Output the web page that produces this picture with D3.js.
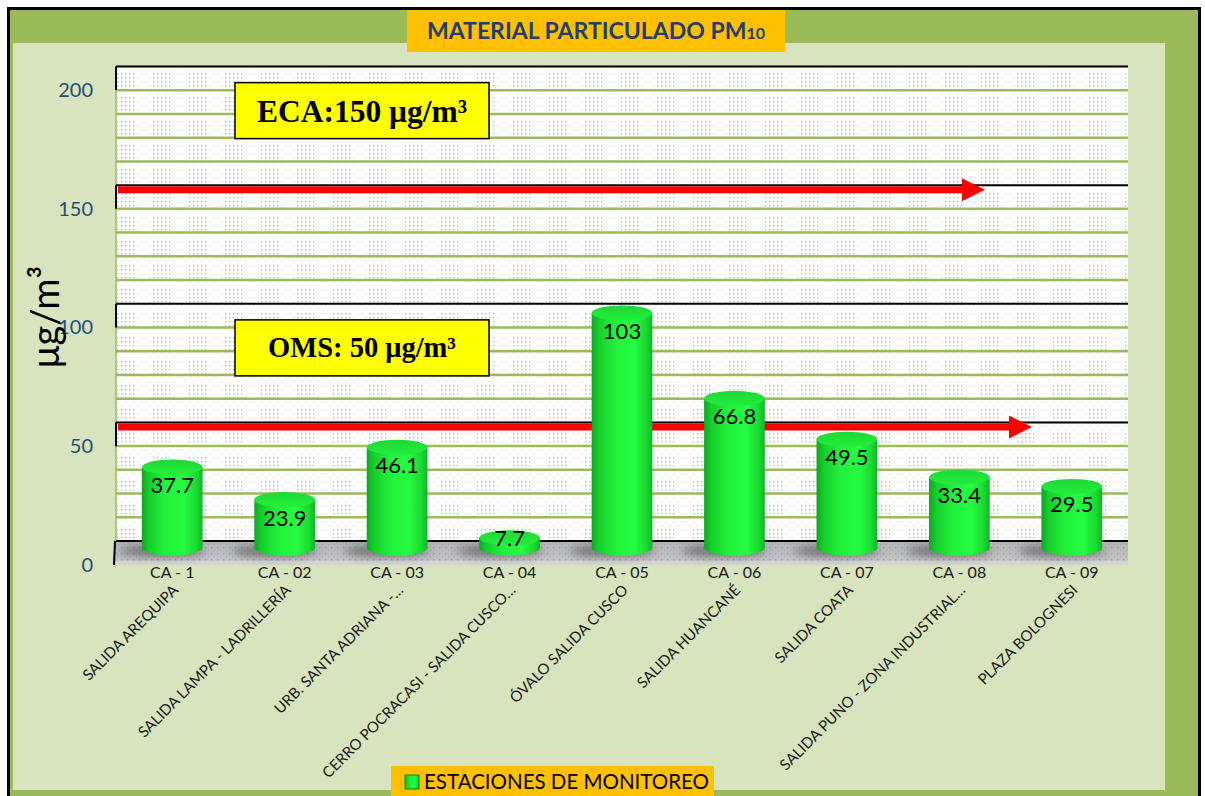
<!DOCTYPE html>
<html>
<head>
<meta charset="utf-8">
<script src="https://cdn.jsdelivr.net/npm/d3@7"></script>
<style>
  body { margin: 0; background: #fff; }
  text { font-family: Lato, "Open Sans", sans-serif; }
</style>
</head>
<body>
<script>
// Chart data
const codes = ["CA - 1", "CA - 02", "CA - 03", "CA - 04", "CA - 05", "CA - 06", "CA - 07", "CA - 08", "CA - 09"];
const stations = [
  "SALIDA AREQUIPA",
  "SALIDA LAMPA - LADRILLERÍA",
  "URB. SANTA ADRIANA -…",
  "CERRO POCRACASI - SALIDA CUSCO…",
  "ÓVALO SALIDA  CUSCO",
  "SALIDA HUANCANÉ",
  "SALIDA COATA",
  "SALIDA PUNO - ZONA INDUSTRIAL…",
  "PLAZA BOLOGNESI"
];
const values = [37.7, 23.9, 46.1, 7.7, 103, 66.8, 49.5, 33.4, 29.5];
const yTicks = [0, 50, 100, 150, 200];
const limitLabels = ["ECA:150 μg/m³", "OMS: 50 μg/m³"];
const limitValues = [150, 50];

// Size of the page
const w = 1205;
const h = 796;

// Walls of the 3D plot
const wallL = 116, wallR = 1128;
const arrowTips = [985, 1032];

const svg = d3.select("body")
  .append("svg")
  .attr("width", w)
  .attr("height", h);

const defs = svg.append("defs");

// dotted texture of the back wall
const dots = defs.append("pattern")
  .attr("id", "dots")
  .attr("patternUnits", "userSpaceOnUse")
  .attr("width", 36).attr("height", 24);
for (let i = 0; i < 36; i += 4) {
  for (let j = 0; j < 24; j += 4) {
    const dense = i >= 8 && i < 28 && j < 16;
    if (!dense && (i + j) % 8 != 0) continue;
    dots.append("rect")
      .attr("x", i + 1).attr("y", j + 1)
      .attr("width", 1.3).attr("height", 1.3)
      .attr("fill", dense ? "#a9b8d1" : "#d3dbe7");
  }
}

// darker texture for the floor
const floorDots = defs.append("pattern")
  .attr("id", "floorDots")
  .attr("patternUnits", "userSpaceOnUse")
  .attr("width", 6).attr("height", 6);
floorDots.append("rect").attr("x", 1).attr("y", 1).attr("width", 1.4).attr("height", 1.4).attr("fill", "#8593aa");
floorDots.append("rect").attr("x", 4).attr("y", 4).attr("width", 1.2).attr("height", 1.2).attr("fill", "#9aa6b9");

const floorGrad = defs.append("linearGradient")
  .attr("id", "floorGrad").attr("x1", 0).attr("y1", 0).attr("x2", 0).attr("y2", 1);
floorGrad.append("stop").attr("offset", "0%").attr("stop-color", "#b4b4b4");
floorGrad.append("stop").attr("offset", "80%").attr("stop-color", "#c4c4c4");
floorGrad.append("stop").attr("offset", "85%").attr("stop-color", "#d6d6d6");
floorGrad.append("stop").attr("offset", "100%").attr("stop-color", "#d2d2d2");

// cylinder shading
const cylGrad = defs.append("linearGradient")
  .attr("id", "cylGrad").attr("x1", 0).attr("y1", 0).attr("x2", 1).attr("y2", 0);
[["0%", "#0ea822"], ["12%", "#17cf2c"], ["40%", "#22f23d"], ["70%", "#25fb40"], ["90%", "#1bd932"], ["100%", "#12b526"]]
  .forEach(s => cylGrad.append("stop").attr("offset", s[0]).attr("stop-color", s[1]));

const topGrad = defs.append("linearGradient")
  .attr("id", "topGrad").attr("x1", 0).attr("y1", 0).attr("x2", 0).attr("y2", 1);
topGrad.append("stop").attr("offset", "0%").attr("stop-color", "#1ed836");
topGrad.append("stop").attr("offset", "100%").attr("stop-color", "#22ef3b");

const blur = defs.append("filter").attr("id", "blur")
  .attr("x", "-50%").attr("y", "-100%").attr("width", "200%").attr("height", "300%");
blur.append("feGaussianBlur").attr("stdDeviation", 4);

// Scales
const x = d3.scaleBand().domain(codes).range([wallL, wallR]);
const yFront = d3.scaleLinear().domain([0, 200]).range([565, 90]);
const yBack = d3.scaleLinear().domain([0, 200]).range([541, 66.5]);
const yBar = d3.scaleLinear().domain([0, 200]).range([556, 84]);

// Frame
svg.append("rect")
  .attr("x", 8.5).attr("y", 8.5)
  .attr("width", 1191).attr("height", 800)
  .style("fill", "#9bbb59")
  .style("stroke", "#000")
  .style("stroke-width", 3);

svg.append("rect")
  .attr("x", 13).attr("y", 43)
  .attr("width", 1152).attr("height", 747)
  .style("fill", "#d7e4bd");

// Title
svg.append("rect")
  .attr("x", 407).attr("y", 10)
  .attr("width", 378).attr("height", 42)
  .style("fill", "#ffc000");

const title = svg.append("text")
  .attr("x", 596).attr("y", 39)
  .attr("text-anchor", "middle")
  .style("font-size", "23px")
  .style("font-weight", "bold")
  .style("fill", "#1f3f6e");
title.append("tspan").text("MATERIAL PARTICULADO PM");
title.append("tspan").style("font-size", "16px").text("10");

// Back wall
svg.append("rect")
  .attr("x", wallL).attr("y", yBack(200))
  .attr("width", wallR - wallL).attr("height", yBack(0) - yBack(200))
  .style("fill", "#fff");
svg.append("rect")
  .attr("x", wallL).attr("y", yBack(200))
  .attr("width", wallR - wallL).attr("height", yBack(0) - yBack(200))
  .style("fill", "url(#dots)");

// Floor
svg.append("path")
  .attr("d", "M" + wallL + "," + yBack(0) + "L" + wallR + "," + yBack(0) +
             "L" + wallR + "," + yFront(0) + "L" + (wallL - 2) + "," + yFront(0) + "Z")
  .style("fill", "url(#floorGrad)");
svg.append("path")
  .attr("d", "M" + wallL + "," + yBack(0) + "L" + wallR + "," + yBack(0) +
             "L" + wallR + "," + (yFront(0) - 4) + "L" + (wallL - 2) + "," + (yFront(0) - 4) + "Z")
  .style("fill", "url(#floorDots)")
  .style("opacity", 0.8);

// Gridlines on the back wall
const grid = d3.range(0, 201, 10);
svg.append("g")
  .selectAll("line")
  .data(grid.filter(v => v % 50 != 0))
  .enter()
  .append("line")
  .attr("x1", wallL).attr("x2", wallR)
  .attr("y1", d => yBack(d)).attr("y2", d => yBack(d))
  .style("stroke", "#9bbb59")
  .style("stroke-width", 2.5);

svg.append("line")
  .attr("x1", wallL).attr("x2", wallL)
  .attr("y1", yBack(200)).attr("y2", yBack(0))
  .style("stroke", "#9bbb59")
  .style("stroke-width", 1.5);

svg.append("g")
  .selectAll("line")
  .data(yTicks)
  .enter()
  .append("line")
  .attr("x1", wallL).attr("x2", wallR)
  .attr("y1", d => yBack(d)).attr("y2", d => yBack(d))
  .style("stroke", "#000")
  .style("stroke-width", 2);

// short edges of the side wall
svg.append("g")
  .selectAll("line")
  .data(yTicks)
  .enter()
  .append("line")
  .attr("x1", d => d == 0 ? wallL - 1 : wallL).attr("x2", d => d == 0 ? wallL - 2 : wallL)
  .attr("y1", d => yBack(d)).attr("y2", d => yFront(d))
  .style("stroke", "#000")
  .style("stroke-width", 2);

// Limit arrows and boxes
const limits = svg.append("g")
  .selectAll("g")
  .data(limitValues)
  .enter()
  .append("g")
  .attr("transform", d => "translate(0," + (yBack(d) + 4.5) + ")");

limits.append("line")
  .attr("x1", wallL + 2)
  .attr("x2", (d, i) => arrowTips[i] - 20)
  .attr("y1", 0).attr("y2", 0)
  .style("stroke", "#ff0000")
  .style("stroke-width", 7);

limits.append("path")
  .attr("d", (d, i) => "M" + (arrowTips[i] - 23) + ",-11.5L" + arrowTips[i] + ",0L" + (arrowTips[i] - 23) + ",11.5Z")
  .style("fill", "#ff0000");

limits.append("rect")
  .attr("x", 235).attr("y", -107)
  .attr("width", 254).attr("height", 56)
  .style("fill", "#ffff00")
  .style("stroke", "#000")
  .style("stroke-width", 1.5);

limits.append("text")
  .attr("x", 362)
  .attr("y", (d, i) => i == 0 ? -68 : -70)
  .attr("text-anchor", "middle")
  .style("font-family", "'Liberation Serif', 'Times New Roman', serif")
  .style("font-weight", "bold")
  .style("font-size", (d, i) => i == 0 ? "31.5px" : "28.5px")
  .style("fill", "#000")
  .text((d, i) => limitLabels[i]);

// Shadows on the floor
svg.append("g")
  .selectAll("ellipse")
  .data(values)
  .enter()
  .append("ellipse")
  .attr("cx", (d, i) => x(codes[i]) + x.bandwidth() / 2 - 10)
  .attr("cy", yBar(0) - 5)
  .attr("rx", x.bandwidth() * 0.38)
  .attr("ry", 6)
  .style("fill", "#3a3a3a")
  .style("opacity", 0.55)
  .attr("filter", "url(#blur)");

// Cylinders
const r = x.bandwidth() * 0.27;
const ry = 7.5;
const bars = svg.append("g")
  .selectAll("g")
  .data(values)
  .enter()
  .append("g")
  .attr("transform", (d, i) => "translate(" + (x(codes[i]) + x.bandwidth() / 2) + ",0)");

bars.append("path")
  .attr("d", d => {
    const top = yBar(d), bot = yBar(0) - 8;
    return "M" + (-r) + "," + top + "L" + (-r) + "," + bot +
           "A" + r + "," + ry + " 0 0 0 " + r + "," + bot +
           "L" + r + "," + top + "Z";
  })
  .style("fill", "url(#cylGrad)");

bars.append("ellipse")
  .attr("cx", 0)
  .attr("cy", d => yBar(d))
  .attr("rx", r).attr("ry", ry)
  .style("fill", "url(#topGrad)");

// value labels sit inside the cylinder, but never lower than its top on short bars
bars.append("text")
  .attr("x", 0)
  .attr("y", d => Math.min(yBar(d) + 18, Math.max(yBar(d), yBar(0) - 26)))
  .attr("dy", "0.36em")
  .attr("text-anchor", "middle")
  .style("font-size", "22px")
  .style("fill", "#000")
  .text(d => d);

// Category labels
const labels = svg.append("g")
  .selectAll("g")
  .data(codes)
  .enter()
  .append("g")
  .attr("transform", d => "translate(" + (x(d) + x.bandwidth() / 2) + ",0)");

labels.append("text")
  .attr("x", 0).attr("y", 578)
  .attr("text-anchor", "middle")
  .style("font-size", "16px")
  .style("fill", "#1a1a1a")
  .text(d => d);

labels.append("text")
  .attr("transform", "translate(7,591) rotate(-45)")
  .attr("text-anchor", "end")
  .style("font-size", "15px")
  .style("fill", "#1a1a1a")
  .text((d, i) => stations[i]);

// Y axis
const yAxis = svg.append("g")
  .attr("transform", "translate(93,0)")
  .call(d3.axisLeft(yFront).tickValues(yTicks).tickSize(0).tickPadding(0));
yAxis.select(".domain").remove();
yAxis.selectAll("text")
  .style("font-family", "Lato, 'Open Sans', sans-serif")
  .style("font-size", "20px")
  .style("fill", "#1f4e79");

svg.append("text")
  .attr("transform", "translate(59,317) rotate(-90)")
  .attr("text-anchor", "middle")
  .style("font-size", "38px")
  .style("fill", "#000")
  .text("μg/m³");

// Legend
svg.append("rect")
  .attr("x", 391).attr("y", 766)
  .attr("width", 323).attr("height", 32)
  .style("fill", "#ffc000");

svg.append("rect")
  .attr("x", 405).attr("y", 775)
  .attr("width", 14).attr("height", 14)
  .style("fill", "url(#cylGrad)")
  .style("stroke", "#0c8a1c")
  .style("stroke-width", 1);

svg.append("text")
  .attr("x", 424).attr("y", 789)
  .style("font-size", "20.5px")
  .style("fill", "#000")
  .text("ESTACIONES DE MONITOREO");
</script>
</body>
</html>
